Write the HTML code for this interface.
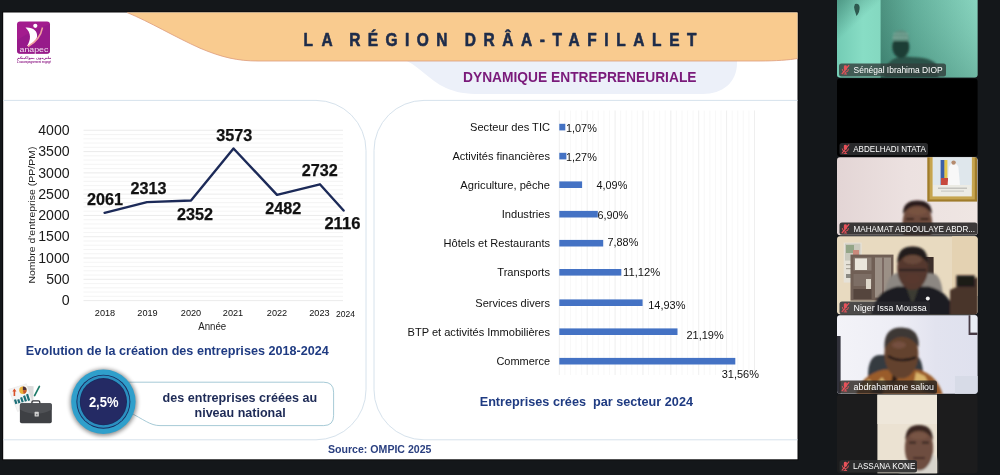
<!DOCTYPE html>
<html lang="fr">
<head>
<meta charset="utf-8">
<title>La région Drâa-Tafilalet – Dynamique entrepreneuriale</title>
<style>
html,body{margin:0;padding:0;background:#14171a;}
body{width:1000px;height:475px;overflow:hidden;position:relative;font-family:"Liberation Sans",sans-serif;}
svg{position:absolute;left:0;top:0;display:block;}
text{font-family:"Liberation Sans",sans-serif;}
.b{font-weight:bold;}
.ar{font-family:"DejaVu Sans","Liberation Sans",sans-serif;}
</style>
</head>
<body>
<svg width="1000" height="475" viewBox="0 0 1000 475">
<defs>
  <filter id="bl05" x="-10%" y="-10%" width="120%" height="120%"><feGaussianBlur stdDeviation="0.5"/></filter>
  <filter id="bl1" x="-20%" y="-20%" width="140%" height="140%"><feGaussianBlur stdDeviation="1"/></filter>
  <filter id="bl2" x="-20%" y="-20%" width="140%" height="140%"><feGaussianBlur stdDeviation="2"/></filter>
  <filter id="bl3" x="-30%" y="-30%" width="160%" height="160%"><feGaussianBlur stdDeviation="3.5"/></filter>
  <filter id="bl6" x="-40%" y="-40%" width="180%" height="180%"><feGaussianBlur stdDeviation="6"/></filter>
</defs>
<rect x="0" y="0" width="1000" height="475" fill="#14171a"/>

<!-- ================= SLIDE ================= -->
<g id="slide">
<rect x="2.3" y="11.6" width="796.1" height="448.6" fill="#060708"/>
<rect x="3.2" y="12.5" width="794.3" height="446.8" fill="#ffffff"/>

<!-- lavender sub-title pill -->
<path d="M400,58 C418,64 428,80 446,88 C456,92.5 466,94 480,94 L703,94 C722,94 737,83 737,63 L737,58 Z" fill="#ecf0f9"/>

<!-- orange banner -->
<path d="M127,12.5 C150,22 175,37 200,48.2 C222,57.5 238,61 258,61 L760,61 C775,61 790,60 797.5,58.5 L797.5,12.5 Z" fill="#f9cb8f"/>
<path d="M127,12.5 C150,22 175,37 200,48.2 C222,57.5 238,61 258,61 L760,61 C775,61 790,60 797.5,58.5" fill="none" stroke="#dd9c7c" stroke-width="0.8"/>

<!-- title -->
<g class="b" font-size="17.6" fill="#1e2c4a" stroke="#1e2c4a" stroke-width="0.6" stroke-linejoin="round">
<text transform="translate(303.6,46.3) scale(0.88,1)" textLength="33.0" lengthAdjust="spacing">LA</text>
<text transform="translate(349.2,46.3) scale(0.88,1)" textLength="111.5" lengthAdjust="spacing">RÉGION</text>
<text transform="translate(464.7,46.3) scale(0.88,1)" textLength="263.5" lengthAdjust="spacing">DRÂA-TAFILALET</text>
</g>
<text class="b" x="463" y="82.2" font-size="14.6" fill="#7a1a7a" textLength="233.5" lengthAdjust="spacingAndGlyphs">DYNAMIQUE ENTREPRENEURIALE</text>

<!-- panels -->
<path d="M3.2,100.4 H316 A50,50 0 0 1 366,150.4 V389.8 A50,50 0 0 1 316,439.8 H3.2" fill="none" stroke="#d6e2ec" stroke-width="1"/>
<path d="M797.5,100.4 H424 A50,50 0 0 0 374,150.4 V389.8 A50,50 0 0 0 424,439.8 H797.5" fill="none" stroke="#d6e2ec" stroke-width="1"/>

<!-- logo -->
<g id="logo">
  <rect x="17" y="21.6" width="33" height="32.2" rx="3" fill="#a31c8e"/>
  <path d="M17,40 Q33,30 50,24 L50,50.8 Q50,53.8 47,53.8 L20,53.8 Q17,53.8 17,50.8 Z" fill="#8e1a86" opacity="0.55"/>
  <path d="M25.5,27.5 C33,27 38,31 37,37 C36,42 31,45.5 27,46 C31,40 31.5,33 25.5,27.5 Z" fill="#ffffff"/>
  <circle cx="35.3" cy="25.8" r="2.1" fill="#ffffff"/>
  <path d="M42.5,27.5 C41,36 35,42.5 28,46.5" fill="none" stroke="#f2a3a0" stroke-width="1.5"/>
  <text x="19.6" y="52.4" font-size="6.6" fill="#ffffff" fill-opacity="0.88" textLength="28.8" lengthAdjust="spacingAndGlyphs">anapec</text>
  <text class="ar b" x="34.2" y="59.4" font-size="3.7" fill="#8e1a86" text-anchor="middle">ملتزمون بمواكبتكم</text>
  <text class="b" x="17" y="63.2" font-size="2.9" fill="#8e1a86" textLength="34" lengthAdjust="spacingAndGlyphs">L'accompagnement engagé</text>
</g>
<!-- ============ LEFT LINE CHART ============ -->
<g id="linechart">
<line x1="83.5" x2="343" y1="300.60" y2="300.60" stroke="#dedede" stroke-width="0.6"/>
<line x1="83.5" x2="343" y1="296.34" y2="296.34" stroke="#ececec" stroke-width="0.6"/>
<line x1="83.5" x2="343" y1="292.08" y2="292.08" stroke="#ececec" stroke-width="0.6"/>
<line x1="83.5" x2="343" y1="287.83" y2="287.83" stroke="#ececec" stroke-width="0.6"/>
<line x1="83.5" x2="343" y1="283.57" y2="283.57" stroke="#ececec" stroke-width="0.6"/>
<line x1="83.5" x2="343" y1="279.31" y2="279.31" stroke="#dedede" stroke-width="0.6"/>
<line x1="83.5" x2="343" y1="275.05" y2="275.05" stroke="#ececec" stroke-width="0.6"/>
<line x1="83.5" x2="343" y1="270.79" y2="270.79" stroke="#ececec" stroke-width="0.6"/>
<line x1="83.5" x2="343" y1="266.54" y2="266.54" stroke="#ececec" stroke-width="0.6"/>
<line x1="83.5" x2="343" y1="262.28" y2="262.28" stroke="#ececec" stroke-width="0.6"/>
<line x1="83.5" x2="343" y1="258.02" y2="258.02" stroke="#dedede" stroke-width="0.6"/>
<line x1="83.5" x2="343" y1="253.76" y2="253.76" stroke="#ececec" stroke-width="0.6"/>
<line x1="83.5" x2="343" y1="249.50" y2="249.50" stroke="#ececec" stroke-width="0.6"/>
<line x1="83.5" x2="343" y1="245.25" y2="245.25" stroke="#ececec" stroke-width="0.6"/>
<line x1="83.5" x2="343" y1="240.99" y2="240.99" stroke="#ececec" stroke-width="0.6"/>
<line x1="83.5" x2="343" y1="236.73" y2="236.73" stroke="#dedede" stroke-width="0.6"/>
<line x1="83.5" x2="343" y1="232.47" y2="232.47" stroke="#ececec" stroke-width="0.6"/>
<line x1="83.5" x2="343" y1="228.21" y2="228.21" stroke="#ececec" stroke-width="0.6"/>
<line x1="83.5" x2="343" y1="223.96" y2="223.96" stroke="#ececec" stroke-width="0.6"/>
<line x1="83.5" x2="343" y1="219.70" y2="219.70" stroke="#ececec" stroke-width="0.6"/>
<line x1="83.5" x2="343" y1="215.44" y2="215.44" stroke="#dedede" stroke-width="0.6"/>
<line x1="83.5" x2="343" y1="211.18" y2="211.18" stroke="#ececec" stroke-width="0.6"/>
<line x1="83.5" x2="343" y1="206.92" y2="206.92" stroke="#ececec" stroke-width="0.6"/>
<line x1="83.5" x2="343" y1="202.67" y2="202.67" stroke="#ececec" stroke-width="0.6"/>
<line x1="83.5" x2="343" y1="198.41" y2="198.41" stroke="#ececec" stroke-width="0.6"/>
<line x1="83.5" x2="343" y1="194.15" y2="194.15" stroke="#dedede" stroke-width="0.6"/>
<line x1="83.5" x2="343" y1="189.89" y2="189.89" stroke="#ececec" stroke-width="0.6"/>
<line x1="83.5" x2="343" y1="185.63" y2="185.63" stroke="#ececec" stroke-width="0.6"/>
<line x1="83.5" x2="343" y1="181.38" y2="181.38" stroke="#ececec" stroke-width="0.6"/>
<line x1="83.5" x2="343" y1="177.12" y2="177.12" stroke="#ececec" stroke-width="0.6"/>
<line x1="83.5" x2="343" y1="172.86" y2="172.86" stroke="#dedede" stroke-width="0.6"/>
<line x1="83.5" x2="343" y1="168.60" y2="168.60" stroke="#ececec" stroke-width="0.6"/>
<line x1="83.5" x2="343" y1="164.34" y2="164.34" stroke="#ececec" stroke-width="0.6"/>
<line x1="83.5" x2="343" y1="160.09" y2="160.09" stroke="#ececec" stroke-width="0.6"/>
<line x1="83.5" x2="343" y1="155.83" y2="155.83" stroke="#ececec" stroke-width="0.6"/>
<line x1="83.5" x2="343" y1="151.57" y2="151.57" stroke="#dedede" stroke-width="0.6"/>
<line x1="83.5" x2="343" y1="147.31" y2="147.31" stroke="#ececec" stroke-width="0.6"/>
<line x1="83.5" x2="343" y1="143.05" y2="143.05" stroke="#ececec" stroke-width="0.6"/>
<line x1="83.5" x2="343" y1="138.80" y2="138.80" stroke="#ececec" stroke-width="0.6"/>
<line x1="83.5" x2="343" y1="134.54" y2="134.54" stroke="#ececec" stroke-width="0.6"/>
<line x1="83.5" x2="343" y1="130.28" y2="130.28" stroke="#dedede" stroke-width="0.6"/>
<text x="69.6" y="305.30" font-size="14.4" fill="#1a1a1a" text-anchor="end" textLength="7.9" lengthAdjust="spacingAndGlyphs">0</text>
<text x="69.6" y="284.01" font-size="14.4" fill="#1a1a1a" text-anchor="end" textLength="23.4" lengthAdjust="spacingAndGlyphs">500</text>
<text x="69.6" y="262.72" font-size="14.4" fill="#1a1a1a" text-anchor="end" textLength="31.4" lengthAdjust="spacingAndGlyphs">1000</text>
<text x="69.6" y="241.43" font-size="14.4" fill="#1a1a1a" text-anchor="end" textLength="31.4" lengthAdjust="spacingAndGlyphs">1500</text>
<text x="69.6" y="220.14" font-size="14.4" fill="#1a1a1a" text-anchor="end" textLength="31.4" lengthAdjust="spacingAndGlyphs">2000</text>
<text x="69.6" y="198.85" font-size="14.4" fill="#1a1a1a" text-anchor="end" textLength="31.4" lengthAdjust="spacingAndGlyphs">2500</text>
<text x="69.6" y="177.56" font-size="14.4" fill="#1a1a1a" text-anchor="end" textLength="31.4" lengthAdjust="spacingAndGlyphs">3000</text>
<text x="69.6" y="156.27" font-size="14.4" fill="#1a1a1a" text-anchor="end" textLength="31.4" lengthAdjust="spacingAndGlyphs">3500</text>
<text x="69.6" y="134.98" font-size="14.4" fill="#1a1a1a" text-anchor="end" textLength="31.4" lengthAdjust="spacingAndGlyphs">4000</text>
<text transform="translate(34.6,283.6) rotate(-90)" font-size="9.2" fill="#222" textLength="137" lengthAdjust="spacingAndGlyphs">Nombre d'entreprise (PP/PM)</text>
<text x="105.0" y="316.3" font-size="9" fill="#111" text-anchor="middle" textLength="20.4" lengthAdjust="spacingAndGlyphs">2018</text>
<text x="147.5" y="316.3" font-size="9" fill="#111" text-anchor="middle" textLength="20.4" lengthAdjust="spacingAndGlyphs">2019</text>
<text x="191.0" y="316.3" font-size="9" fill="#111" text-anchor="middle" textLength="20.4" lengthAdjust="spacingAndGlyphs">2020</text>
<text x="233.0" y="316.3" font-size="9" fill="#111" text-anchor="middle" textLength="20.4" lengthAdjust="spacingAndGlyphs">2021</text>
<text x="277.0" y="316.3" font-size="9" fill="#111" text-anchor="middle" textLength="20.4" lengthAdjust="spacingAndGlyphs">2022</text>
<text x="319.4" y="316.3" font-size="9" fill="#111" text-anchor="middle" textLength="20.4" lengthAdjust="spacingAndGlyphs">2023</text>
<text x="345.6" y="317.4" font-size="9" fill="#111" text-anchor="middle" textLength="19.0" lengthAdjust="spacingAndGlyphs">2024</text>
<text x="212.2" y="330" font-size="10" fill="#222" text-anchor="middle" textLength="28" lengthAdjust="spacingAndGlyphs">Année</text>
<polyline points="104.6,212.8 147.0,202.1 191.0,200.5 233.5,148.5 277.0,194.9 319.9,184.3 343.6,210.5" fill="none" stroke="#1c2a58" stroke-width="2.4" stroke-linejoin="round" stroke-linecap="round"/>
<text class="b" x="86.9" y="204.8" font-size="16.2" fill="#111" stroke="#111" stroke-width="0.25" textLength="36" lengthAdjust="spacingAndGlyphs">2061</text>
<text class="b" x="130.4" y="193.8" font-size="16.2" fill="#111" stroke="#111" stroke-width="0.25" textLength="36" lengthAdjust="spacingAndGlyphs">2313</text>
<text class="b" x="176.9" y="220.0" font-size="16.2" fill="#111" stroke="#111" stroke-width="0.25" textLength="36" lengthAdjust="spacingAndGlyphs">2352</text>
<text class="b" x="216.3" y="141.0" font-size="16.2" fill="#111" stroke="#111" stroke-width="0.25" textLength="36" lengthAdjust="spacingAndGlyphs">3573</text>
<text class="b" x="265.3" y="213.8" font-size="16.2" fill="#111" stroke="#111" stroke-width="0.25" textLength="36" lengthAdjust="spacingAndGlyphs">2482</text>
<text class="b" x="301.7" y="176.0" font-size="16.2" fill="#111" stroke="#111" stroke-width="0.25" textLength="36" lengthAdjust="spacingAndGlyphs">2732</text>
<text class="b" x="324.4" y="229.2" font-size="16.2" fill="#111" stroke="#111" stroke-width="0.25" textLength="36" lengthAdjust="spacingAndGlyphs">2116</text>
<text class="b" x="25.8" y="354.9" font-size="12.7" fill="#1f3b82" textLength="303" lengthAdjust="spacingAndGlyphs">Evolution de la création des entreprises 2018-2024</text>
</g>
<!-- ============ KPI ============ -->
<g id="kpi">
  <!-- briefcase icon -->
  <g id="briefcase">
    <path d="M22.6,385.4 L33.6,386.2 L33.2,408 L21.6,407 Z" fill="#dcdcdc"/>
    <path d="M8.6,389.4 L26.4,383.8 L33.4,405 L17.6,411.6 Z" fill="#f4f4f4" stroke="#dedede" stroke-width="0.4"/>
    <path d="M12.4,391.4 l2,-2.9 l2,2.9 h-1.2 v4.6 h-1.6 v-4.6 z" fill="#d9502a"/>
    <circle cx="22.9" cy="390.2" r="3.7" fill="#eab13c"/>
    <path d="M22.9,390.2 L22.9,386.5 A3.7,3.7 0 0 1 26.6,390.2 Z" fill="#4a2e3a"/>
    <path d="M22.9,390.2 L26.6,390.2 A3.7,3.7 0 0 1 23.6,393.8 Z" fill="#c9552c"/>
    <g fill="#1d6f78">
      <rect x="14.6" y="399.4" width="2.2" height="4.6" transform="rotate(-18 15.7 401.7)"/>
      <rect x="17.7" y="399.2" width="2.2" height="4" transform="rotate(-18 18.8 401.2)"/>
      <rect x="20.8" y="397.2" width="2.2" height="5.2" transform="rotate(-18 21.9 399.8)"/>
      <rect x="23.9" y="395.4" width="2.2" height="6.2" transform="rotate(-18 25 398.5)"/>
      <rect x="27" y="394" width="2.2" height="6.8" transform="rotate(-18 28.1 397.4)"/>
    </g>
    <path d="M39.4,386.4 L34.6,395.6" stroke="#1e7a68" stroke-width="1.7" stroke-linecap="round"/>
    <path d="M31.9,404 V402.2 Q31.9,400.8 33.3,400.8 H38.4 Q39.8,400.8 39.8,402.2 V404" fill="none" stroke="#34363a" stroke-width="1.3"/>
    <rect x="19.9" y="403.3" width="31.9" height="19.9" rx="1.8" fill="#3e4044"/>
    <path d="M19.9,405.1 Q19.9,403.3 21.7,403.3 H50 Q51.8,403.3 51.8,405.1 V409.4 Q44,413.8 35.9,413.8 Q27.8,413.8 19.9,409.4 Z" fill="#4f5155"/>
    <rect x="34.6" y="411.8" width="4.2" height="4.8" rx="0.6" fill="#d2d2d2"/>
    <rect x="35.9" y="413.8" width="1.6" height="1.6" fill="#77797c"/>
  </g>
  <!-- callout -->
  <path d="M121,382.2 L134,382.2 H323.6 Q333.6,382.2 333.6,392.2 V415.6 Q333.6,425.6 323.6,425.6 H160 C150,425.6 144,419.4 128,411.6" fill="#ffffff" stroke="#8fbccb" stroke-width="0.8"/>
  <text class="b" x="239.9" y="401.6" font-size="12.6" fill="#1d2a56" text-anchor="middle" textLength="154.6" lengthAdjust="spacingAndGlyphs">des entreprises créées au</text>
  <text class="b" x="240.1" y="416.8" font-size="12.6" fill="#1d2a56" text-anchor="middle" textLength="91.2" lengthAdjust="spacingAndGlyphs">niveau national</text>
  <!-- circle -->
  <circle cx="103.6" cy="402.4" r="33.4" fill="#000" opacity="0.45" filter="url(#bl2)"/>
  <circle cx="103.4" cy="401.7" r="32.2" fill="#2f9fcb"/>
  <circle cx="103.4" cy="401.7" r="27" fill="#1b2a5e"/>
  <circle cx="103.4" cy="401.7" r="26.1" fill="#2b8fc0"/>
  <circle cx="103.4" cy="401.7" r="23.6" fill="#1b2a5e"/>
  <circle cx="103.4" cy="401.7" r="22.8" fill="#242a64"/>
  <text class="b" x="103.7" y="407" font-size="15" fill="#ffffff" text-anchor="middle" textLength="29.6" lengthAdjust="spacingAndGlyphs">2,5%</text>
</g>
<text class="b" x="328" y="452.8" font-size="10.4" fill="#2b4080" textLength="103.5" lengthAdjust="spacingAndGlyphs">Source: OMPIC 2025</text>
<!-- ============ RIGHT BAR CHART ============ -->
<g id="barchart">
<line x1="559.30" x2="559.30" y1="110.5" y2="375" stroke="#e2e2e2" stroke-width="0.6"/>
<line x1="564.88" x2="564.88" y1="110.5" y2="375" stroke="#f4f4f4" stroke-width="0.6"/>
<line x1="570.45" x2="570.45" y1="110.5" y2="375" stroke="#f4f4f4" stroke-width="0.6"/>
<line x1="576.03" x2="576.03" y1="110.5" y2="375" stroke="#f4f4f4" stroke-width="0.6"/>
<line x1="581.61" x2="581.61" y1="110.5" y2="375" stroke="#f4f4f4" stroke-width="0.6"/>
<line x1="587.18" x2="587.18" y1="110.5" y2="375" stroke="#e2e2e2" stroke-width="0.6"/>
<line x1="592.76" x2="592.76" y1="110.5" y2="375" stroke="#f4f4f4" stroke-width="0.6"/>
<line x1="598.34" x2="598.34" y1="110.5" y2="375" stroke="#f4f4f4" stroke-width="0.6"/>
<line x1="603.91" x2="603.91" y1="110.5" y2="375" stroke="#f4f4f4" stroke-width="0.6"/>
<line x1="609.49" x2="609.49" y1="110.5" y2="375" stroke="#f4f4f4" stroke-width="0.6"/>
<line x1="615.07" x2="615.07" y1="110.5" y2="375" stroke="#e2e2e2" stroke-width="0.6"/>
<line x1="620.64" x2="620.64" y1="110.5" y2="375" stroke="#f4f4f4" stroke-width="0.6"/>
<line x1="626.22" x2="626.22" y1="110.5" y2="375" stroke="#f4f4f4" stroke-width="0.6"/>
<line x1="631.80" x2="631.80" y1="110.5" y2="375" stroke="#f4f4f4" stroke-width="0.6"/>
<line x1="637.37" x2="637.37" y1="110.5" y2="375" stroke="#f4f4f4" stroke-width="0.6"/>
<line x1="642.95" x2="642.95" y1="110.5" y2="375" stroke="#e2e2e2" stroke-width="0.6"/>
<line x1="648.53" x2="648.53" y1="110.5" y2="375" stroke="#f4f4f4" stroke-width="0.6"/>
<line x1="654.10" x2="654.10" y1="110.5" y2="375" stroke="#f4f4f4" stroke-width="0.6"/>
<line x1="659.68" x2="659.68" y1="110.5" y2="375" stroke="#f4f4f4" stroke-width="0.6"/>
<line x1="665.26" x2="665.26" y1="110.5" y2="375" stroke="#f4f4f4" stroke-width="0.6"/>
<line x1="670.83" x2="670.83" y1="110.5" y2="375" stroke="#e2e2e2" stroke-width="0.6"/>
<line x1="676.41" x2="676.41" y1="110.5" y2="375" stroke="#f4f4f4" stroke-width="0.6"/>
<line x1="681.99" x2="681.99" y1="110.5" y2="375" stroke="#f4f4f4" stroke-width="0.6"/>
<line x1="687.56" x2="687.56" y1="110.5" y2="375" stroke="#f4f4f4" stroke-width="0.6"/>
<line x1="693.14" x2="693.14" y1="110.5" y2="375" stroke="#f4f4f4" stroke-width="0.6"/>
<line x1="698.72" x2="698.72" y1="110.5" y2="375" stroke="#e2e2e2" stroke-width="0.6"/>
<line x1="704.29" x2="704.29" y1="110.5" y2="375" stroke="#f4f4f4" stroke-width="0.6"/>
<line x1="709.87" x2="709.87" y1="110.5" y2="375" stroke="#f4f4f4" stroke-width="0.6"/>
<line x1="715.45" x2="715.45" y1="110.5" y2="375" stroke="#f4f4f4" stroke-width="0.6"/>
<line x1="721.02" x2="721.02" y1="110.5" y2="375" stroke="#f4f4f4" stroke-width="0.6"/>
<line x1="726.60" x2="726.60" y1="110.5" y2="375" stroke="#e2e2e2" stroke-width="0.6"/>
<line x1="732.18" x2="732.18" y1="110.5" y2="375" stroke="#f4f4f4" stroke-width="0.6"/>
<line x1="737.75" x2="737.75" y1="110.5" y2="375" stroke="#f4f4f4" stroke-width="0.6"/>
<line x1="743.33" x2="743.33" y1="110.5" y2="375" stroke="#f4f4f4" stroke-width="0.6"/>
<line x1="748.91" x2="748.91" y1="110.5" y2="375" stroke="#f4f4f4" stroke-width="0.6"/>
<line x1="754.48" x2="754.48" y1="110.5" y2="375" stroke="#e2e2e2" stroke-width="0.6"/>
<text x="550" y="131.2" font-size="11" fill="#111" text-anchor="end" textLength="80.0" lengthAdjust="spacingAndGlyphs">Secteur des TIC</text>
<rect x="559.3" y="123.8" width="6.0" height="6.6" fill="#4472c4"/>
<text x="566.0" y="131.7" font-size="11" fill="#111" textLength="30.8" lengthAdjust="spacingAndGlyphs">1,07%</text>
<text x="550" y="160.2" font-size="11" fill="#111" text-anchor="end" textLength="97.6" lengthAdjust="spacingAndGlyphs">Activités financières</text>
<rect x="559.3" y="152.8" width="7.1" height="6.6" fill="#4472c4"/>
<text x="566.0" y="160.7" font-size="11" fill="#111" textLength="30.8" lengthAdjust="spacingAndGlyphs">1,27%</text>
<text x="550" y="188.8" font-size="11" fill="#111" text-anchor="end" textLength="89.7" lengthAdjust="spacingAndGlyphs">Agriculture, pêche</text>
<rect x="559.3" y="181.4" width="22.8" height="6.6" fill="#4472c4"/>
<text x="596.5" y="189.3" font-size="11" fill="#111" textLength="30.8" lengthAdjust="spacingAndGlyphs">4,09%</text>
<text x="550" y="218.3" font-size="11" fill="#111" text-anchor="end" textLength="48.3" lengthAdjust="spacingAndGlyphs">Industries</text>
<rect x="559.3" y="210.9" width="38.5" height="6.6" fill="#4472c4"/>
<text x="597.4" y="218.8" font-size="11" fill="#111" textLength="30.8" lengthAdjust="spacingAndGlyphs">6,90%</text>
<text x="550" y="247.3" font-size="11" fill="#111" text-anchor="end" textLength="106.4" lengthAdjust="spacingAndGlyphs">Hôtels et Restaurants</text>
<rect x="559.3" y="239.9" width="43.9" height="6.6" fill="#4472c4"/>
<text x="607.5" y="246.1" font-size="11" fill="#111" textLength="30.8" lengthAdjust="spacingAndGlyphs">7,88%</text>
<text x="550" y="276.4" font-size="11" fill="#111" text-anchor="end" textLength="52.7" lengthAdjust="spacingAndGlyphs">Transports</text>
<rect x="559.3" y="269.0" width="62.0" height="6.6" fill="#4472c4"/>
<text x="623.1" y="275.6" font-size="11" fill="#111" textLength="37.2" lengthAdjust="spacingAndGlyphs">11,12%</text>
<text x="550" y="306.8" font-size="11" fill="#111" text-anchor="end" textLength="74.7" lengthAdjust="spacingAndGlyphs">Services divers</text>
<rect x="559.3" y="299.4" width="83.3" height="6.6" fill="#4472c4"/>
<text x="648.2" y="308.6" font-size="11" fill="#111" textLength="37.2" lengthAdjust="spacingAndGlyphs">14,93%</text>
<text x="550" y="335.8" font-size="11" fill="#111" text-anchor="end" textLength="142.5" lengthAdjust="spacingAndGlyphs">BTP et activités Immobilières</text>
<rect x="559.3" y="328.4" width="118.2" height="6.6" fill="#4472c4"/>
<text x="686.5" y="339.4" font-size="11" fill="#111" textLength="37.2" lengthAdjust="spacingAndGlyphs">21,19%</text>
<text x="550" y="365.3" font-size="11" fill="#111" text-anchor="end" textLength="53.6" lengthAdjust="spacingAndGlyphs">Commerce</text>
<rect x="559.3" y="357.9" width="176.0" height="6.6" fill="#4472c4"/>
<text x="721.7" y="377.7" font-size="11" fill="#111" textLength="37.2" lengthAdjust="spacingAndGlyphs">31,56%</text>
<text class="b" x="479.7" y="406.4" font-size="12.7" fill="#1f3b82" textLength="213.3" lengthAdjust="spacingAndGlyphs" xml:space="preserve">Entreprises crées  par secteur 2024</text>
</g></g>
<!-- ============ VIDEO TILES ============ -->
<g id="tiles">
<defs>
<clipPath id="c1"><rect x="837" y="-4" width="140.6" height="81.4" rx="3"/></clipPath>
<clipPath id="c2"><rect x="837" y="78.4" width="140.6" height="78" rx="3"/></clipPath>
<clipPath id="c3"><rect x="837" y="157.3" width="140.6" height="78" rx="3"/></clipPath>
<clipPath id="c4"><rect x="837" y="236.2" width="140.6" height="78" rx="3"/></clipPath>
<clipPath id="c5"><rect x="837" y="315.2" width="140.6" height="78.6" rx="3"/></clipPath>
<clipPath id="c6"><rect x="837" y="394.8" width="140.6" height="78.4" rx="3"/></clipPath>
<linearGradient id="g3" x1="0" y1="0" x2="1" y2="0"><stop offset="0" stop-color="#e3d5d5"/><stop offset="0.5" stop-color="#ece1e0"/><stop offset="1" stop-color="#efe6e3"/></linearGradient>
<linearGradient id="g5" x1="0" y1="0" x2="1" y2="0"><stop offset="0" stop-color="#f3f3f8"/><stop offset="0.45" stop-color="#ededf5"/><stop offset="0.7" stop-color="#e2e3ef"/><stop offset="1" stop-color="#dfe1ee"/></linearGradient>
<linearGradient id="g1a" x1="0" y1="0" x2="1" y2="0"><stop offset="0" stop-color="#74ccb5"/><stop offset="0.6" stop-color="#88ddc5"/><stop offset="1" stop-color="#84d8c0"/></linearGradient>
<linearGradient id="g1d" x1="0" y1="0" x2="0.5" y2="1"><stop offset="0" stop-color="#2f6e5f" stop-opacity="0.6"/><stop offset="0.45" stop-color="#2f6e5f" stop-opacity="0"/></linearGradient>
<linearGradient id="g1b" x1="0" y1="0" x2="1" y2="0"><stop offset="0" stop-color="#3f8472"/><stop offset="0.31" stop-color="#3f8472"/><stop offset="0.55" stop-color="#5aa793"/><stop offset="1" stop-color="#86d3bd"/></linearGradient>
<linearGradient id="g1c" x1="0" y1="1" x2="0" y2="0"><stop offset="0" stop-color="#2d6a5b" stop-opacity="0.25"/><stop offset="1" stop-color="#9be3cf" stop-opacity="0.15"/></linearGradient>
</defs>
<g clip-path="url(#c1)">
<rect x="837" y="-4" width="141" height="82" fill="url(#g1b)"/>
<rect x="837" y="-4" width="141" height="82" fill="url(#g1c)"/>
<rect x="837" y="-4" width="43.6" height="82" fill="url(#g1a)"/>
<rect x="837" y="-4" width="43.6" height="82" fill="url(#g1d)"/>
<path d="M855,4 Q859,3 859.6,7 Q860,12 856.5,16 Q855.6,13 854.6,10 Q853.6,6 855,4 Z" fill="#2d5a50" filter="url(#bl05)"/>
<g filter="url(#bl1)">
<path d="M884,80 Q884,62 896,58 Q902,55 910,57 Q930,57 936,64 L939,80 Z" fill="#2b5248"/>
<ellipse cx="900.8" cy="47" rx="8.6" ry="11" fill="#1f3d35"/>
<path d="M892.6,41 Q892,30.5 900.8,30 Q909.6,30.5 909,41 Z" fill="#5f8f80"/>
<path d="M893.5,34 H908 M893,37.5 H908.6" stroke="#a7cdbf" stroke-width="1" stroke-dasharray="1.4 1.2"/>
</g>
</g>
<rect x="839.0" y="63.6" width="107.0" height="13.0" rx="2.5" fill="#33403d" opacity="0.82"/><g transform="translate(841.4,64.9) scale(1.1,0.96)"><rect x="2.2" y="0.4" width="2.8" height="5.4" rx="1.4" fill="#e8525a"/><path d="M0.8,4.4 Q0.8,7.6 3.6,7.6 Q6.4,7.6 6.4,4.4" fill="none" stroke="#e8525a" stroke-width="0.9"/><path d="M3.6,7.6 V9.4 M2,9.5 H5.2" stroke="#e8525a" stroke-width="0.9"/><path d="M7,0.2 L0.4,9.6" stroke="#e8525a" stroke-width="1.1"/></g><text x="853.6" y="73.3" font-size="8.9" fill="#ffffff" textLength="89.0" lengthAdjust="spacingAndGlyphs">Sénégal Ibrahima DIOP</text>
<g clip-path="url(#c2)"><rect x="837" y="78" width="141" height="79" fill="#000000"/></g>
<rect x="839.5" y="143.0" width="88.5" height="12.3" rx="2.5" fill="#28292b" opacity="1.00"/><g transform="translate(841.4,144.3) scale(1.1,0.96)"><rect x="2.2" y="0.4" width="2.8" height="5.4" rx="1.4" fill="#e8525a"/><path d="M0.8,4.4 Q0.8,7.6 3.6,7.6 Q6.4,7.6 6.4,4.4" fill="none" stroke="#e8525a" stroke-width="0.9"/><path d="M3.6,7.6 V9.4 M2,9.5 H5.2" stroke="#e8525a" stroke-width="0.9"/><path d="M7,0.2 L0.4,9.6" stroke="#e8525a" stroke-width="1.1"/></g><text x="853.2" y="152.3" font-size="8.9" fill="#ffffff" textLength="72.6" lengthAdjust="spacingAndGlyphs">ABDELHADI NTATA</text>
<g clip-path="url(#c3)">
<rect x="837" y="157" width="141" height="79" fill="url(#g3)"/>
<g filter="url(#bl05)">
<rect x="927.3" y="155" width="49.8" height="46.6" fill="#a07c2c"/>
<rect x="929.6" y="156" width="45.2" height="43.4" fill="#c6a550"/>
<rect x="932.6" y="157" width="39.2" height="39.4" fill="#ecebe4"/>
<rect x="933" y="157" width="38.4" height="28" fill="#dfe7ec"/>
<rect x="940.6" y="160" width="4.2" height="25" fill="#3b5fa6"/>
<rect x="944.4" y="160" width="3" height="22" fill="#e5c64a"/>
<rect x="941" y="178" width="7" height="7" fill="#c7483e"/>
<path d="M947.6,185 L949,167 Q953.6,158 958.4,167 L960,185 Z" fill="#f8f8f8"/>
<circle cx="953.6" cy="162.6" r="2.2" fill="#b58b6e"/>
<rect x="938" y="187.6" width="29" height="1.2" fill="#b9b9b4"/>
<rect x="941" y="190.6" width="23" height="1" fill="#c4c4be"/>
</g>
<g filter="url(#bl1)">
<ellipse cx="917.4" cy="225" rx="15" ry="24" fill="#6e4c3c"/>
<path d="M903,214 Q902.6,200.4 917.4,200.4 Q932.2,200.4 931.8,214 Q926,205.6 917.4,205.8 Q909,205.6 903,214 Z" fill="#2a1d1a"/>
<ellipse cx="917.4" cy="211.4" rx="9.6" ry="3.8" fill="#7a5442" opacity="0.8"/>
<path d="M906,219 h8 M920.6,219 h8" stroke="#2d1c17" stroke-width="2"/>
</g>
</g>
<rect x="839.5" y="222.6" width="137.9" height="12.2" rx="2.5" fill="#2c2a2a" opacity="0.92"/><g transform="translate(841.4,223.9) scale(1.1,0.96)"><rect x="2.2" y="0.4" width="2.8" height="5.4" rx="1.4" fill="#e8525a"/><path d="M0.8,4.4 Q0.8,7.6 3.6,7.6 Q6.4,7.6 6.4,4.4" fill="none" stroke="#e8525a" stroke-width="0.9"/><path d="M3.6,7.6 V9.4 M2,9.5 H5.2" stroke="#e8525a" stroke-width="0.9"/><path d="M7,0.2 L0.4,9.6" stroke="#e8525a" stroke-width="1.1"/></g><text x="853.5" y="231.9" font-size="8.9" fill="#ffffff" textLength="121.5" lengthAdjust="spacingAndGlyphs">MAHAMAT ABDOULAYE ABDR...</text>
<g clip-path="url(#c4)">
<rect x="837" y="236" width="141" height="79" fill="#e8dac0"/>
<rect x="952" y="236" width="26" height="60" fill="#e4d2b2"/>
<g filter="url(#bl05)">
<rect x="843.7" y="242.6" width="18" height="40" fill="#e6e2d8"/>
<rect x="845" y="243.6" width="15.4" height="17" fill="#c9c9bd"/>
<rect x="846" y="245" width="8" height="8" fill="#93a587"/>
<rect x="853" y="250" width="6" height="8" fill="#c98a7c"/>
<rect x="846" y="264" width="13" height="1.2" fill="#a9a59a"/>
<rect x="846" y="268" width="13" height="1.2" fill="#a9a59a"/>
<rect x="846" y="274" width="13" height="4" fill="#8c8a82"/>
<rect x="850.5" y="254.6" width="43" height="46" fill="#6f5e55"/>
<rect x="853.5" y="257.5" width="18" height="13" fill="#8a7c72"/>
<rect x="855" y="258.4" width="12" height="11.6" fill="#ebe6dc"/>
<rect x="875" y="257.5" width="16" height="40" fill="#9c9086"/>
<rect x="882.4" y="257.5" width="1.2" height="40" fill="#65544c"/>
<rect x="853.5" y="274" width="18" height="12" fill="#7d6e65"/>
<rect x="866" y="279" width="5" height="12" fill="#ded7ca"/>
<rect x="853.5" y="289" width="18" height="10" fill="#54453e"/>
<rect x="924" y="257" width="9.6" height="28" fill="#3a2d29"/>
</g>
<g filter="url(#bl1)">
<path d="M885,302 Q885,273 898,273 L931,273 Q943,273 943,302 Z" fill="#8c8782"/>
<path d="M871,316 Q875,291 897,286.5 L929,286.5 Q950,291 956,316 Z" fill="#1f1f24"/>
<path d="M906,287 L912.5,305 L919,287 Z" fill="#3b3b33"/>
<ellipse cx="912.6" cy="268.6" rx="15.4" ry="21.4" fill="#55382e"/>
<path d="M897.2,263 Q897.4,246.4 912.6,246.6 Q927.8,246.4 928,263 Q920,254.6 912.6,254.8 Q905,254.6 897.2,263 Z" fill="#221e1d"/>
<ellipse cx="912.6" cy="259.6" rx="9.6" ry="4.6" fill="#6e4c3d" opacity="0.8"/>
<ellipse cx="912.6" cy="279" rx="8" ry="5" fill="#5a3a2f" opacity="0.7"/>
<path d="M899,270 H926" stroke="#1e1a1a" stroke-width="1.8"/>
<path d="M950,290 L978,277 L978,316 L950,316 Z" fill="#4a362b"/>
<rect x="956.4" y="275.4" width="18.4" height="11.4" fill="#1f1a19"/>
</g>
<circle cx="927.8" cy="298.6" r="2" fill="#f3f3f3"/>
</g>
<rect x="839.5" y="301.5" width="90.5" height="12.7" rx="2.5" fill="#2a2a2e" opacity="0.82"/><g transform="translate(841.4,302.8) scale(1.1,0.96)"><rect x="2.2" y="0.4" width="2.8" height="5.4" rx="1.4" fill="#e8525a"/><path d="M0.8,4.4 Q0.8,7.6 3.6,7.6 Q6.4,7.6 6.4,4.4" fill="none" stroke="#e8525a" stroke-width="0.9"/><path d="M3.6,7.6 V9.4 M2,9.5 H5.2" stroke="#e8525a" stroke-width="0.9"/><path d="M7,0.2 L0.4,9.6" stroke="#e8525a" stroke-width="1.1"/></g><text x="853.5" y="311.1" font-size="8.9" fill="#ffffff" textLength="73.3" lengthAdjust="spacingAndGlyphs">Niger Issa Moussa</text>
<g clip-path="url(#c5)">
<rect x="837" y="315" width="141" height="79" fill="url(#g5)"/>
<g filter="url(#bl05)">
<rect x="837" y="336" width="3.6" height="58" fill="#33333a"/>
<rect x="968.6" y="315" width="9" height="20" fill="#463a44"/>
<rect x="970.4" y="315" width="7.2" height="17.6" fill="#e9edf4"/>
<rect x="955" y="376" width="23" height="18" fill="#d7dbe7"/>
<rect x="906" y="332" width="6" height="9" fill="#d6d8e2"/>
</g>
<g filter="url(#bl1)">
<path d="M868,376 Q868,355 880,355 L913,355 Q923,355 923,376 Z" fill="#353b41"/>
<path d="M856,396 Q860,375 884,369.6 L918,369.6 Q938,375 943,396 Z" fill="#9a5c2a"/>
<path d="M861,387 l8,-8 l6,7 l7,-9 l6,10 l-8,5 z M916,372 l9,4 l4,8 l-8,6 l-7,-7 z" fill="#d9b46a"/>
<path d="M870,393 l6,-10 l9,3 l-3,9 z M922,391 l3,-9 l9,3 l2,9 z M893,372 l5,8 l-7,4 z" fill="#2a1c16"/>
<ellipse cx="901.4" cy="354" rx="17" ry="24.6" fill="#64432f"/>
<path d="M884.6,349 Q883,327.4 901.6,327.6 Q919.6,328 918.8,347 Q911,336.6 901.6,336.8 Q892,336.6 884.6,349 Z" fill="#3c3735"/>
<path d="M888,356 Q900,363.6 916,357.4" stroke="#1b1515" stroke-width="2.2" fill="none"/>
<ellipse cx="899" cy="345" rx="7" ry="3.4" fill="#7a5646" opacity="0.7"/>
</g>
</g>
<rect x="839.5" y="380.6" width="97.5" height="13.0" rx="2.5" fill="#2b2622" opacity="0.82"/><g transform="translate(841.4,381.9) scale(1.1,0.96)"><rect x="2.2" y="0.4" width="2.8" height="5.4" rx="1.4" fill="#e8525a"/><path d="M0.8,4.4 Q0.8,7.6 3.6,7.6 Q6.4,7.6 6.4,4.4" fill="none" stroke="#e8525a" stroke-width="0.9"/><path d="M3.6,7.6 V9.4 M2,9.5 H5.2" stroke="#e8525a" stroke-width="0.9"/><path d="M7,0.2 L0.4,9.6" stroke="#e8525a" stroke-width="1.1"/></g><text x="853.5" y="390.3" font-size="8.9" fill="#ffffff" textLength="80.5" lengthAdjust="spacingAndGlyphs">abdrahamane saliou</text>
<g clip-path="url(#c6)">
<rect x="837" y="394" width="141" height="80" fill="#1c1c1d"/>
<rect x="877.4" y="394" width="59.6" height="80" fill="#ebe2d2"/>
<rect x="877.4" y="394" width="59.6" height="30" fill="#eee7da"/>
<g filter="url(#bl1)">
<path d="M899,476 Q900,461 911,457 L929,452 Q937,456 937,462 L937,476 Z" fill="#d7d4cc"/>
<ellipse cx="919" cy="448" rx="14.2" ry="22.6" fill="#6e4e3f"/>
<path d="M905.2,440 Q905.6,424.8 919,425 Q932.6,424.8 933,440 Q927,430.6 919,430.8 Q911,430.6 905.2,440 Z" fill="#3a2822"/>
<ellipse cx="919" cy="436" rx="9" ry="3.6" fill="#7a5646" opacity="0.8"/>
<path d="M909,442.6 h7 M922,442.6 h7" stroke="#2a1a15" stroke-width="1.8"/>
<path d="M913,458 h12" stroke="#3a2420" stroke-width="1.6"/>
</g>
</g>
<rect x="839.5" y="460.0" width="77.5" height="12.4" rx="2.5" fill="#2a2b2d" opacity="0.92"/><g transform="translate(841.4,461.3) scale(1.1,0.96)"><rect x="2.2" y="0.4" width="2.8" height="5.4" rx="1.4" fill="#e8525a"/><path d="M0.8,4.4 Q0.8,7.6 3.6,7.6 Q6.4,7.6 6.4,4.4" fill="none" stroke="#e8525a" stroke-width="0.9"/><path d="M3.6,7.6 V9.4 M2,9.5 H5.2" stroke="#e8525a" stroke-width="0.9"/><path d="M7,0.2 L0.4,9.6" stroke="#e8525a" stroke-width="1.1"/></g><text x="853.0" y="469.4" font-size="8.9" fill="#ffffff" textLength="62.3" lengthAdjust="spacingAndGlyphs">LASSANA KONE</text>
</g>
</svg>
</body>
</html>
